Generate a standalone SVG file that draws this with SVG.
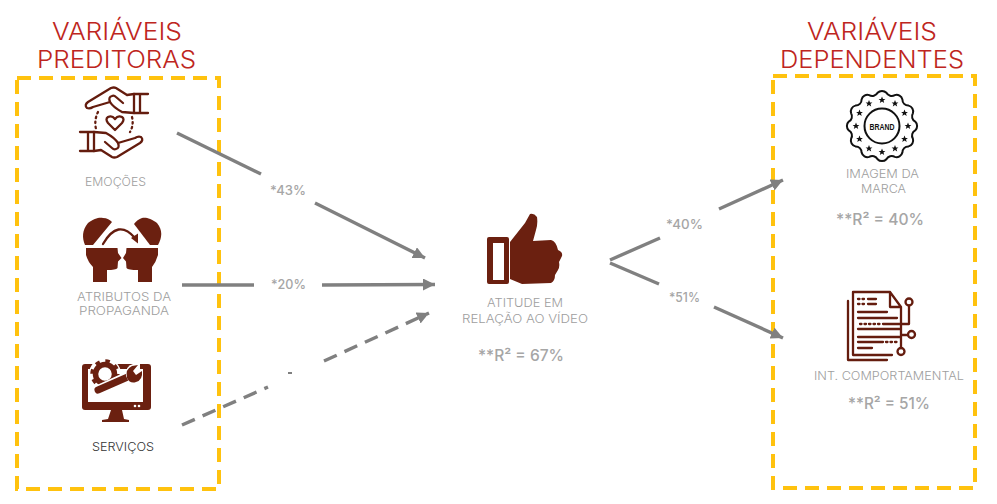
<svg xmlns="http://www.w3.org/2000/svg" width="997" height="504" viewBox="0 0 997 504">
<style>
text{font-family:"Inter","Open Sans","Liberation Sans",sans-serif}
.title{font-size:24px;font-weight:300;fill:#BE2520}
.lab{font-size:12px;font-weight:300;fill:#9E9E9E}
.r2{font-size:16px;font-weight:500;fill:#A6A6A6}
.pct{font-size:13px;font-weight:500;fill:#A6A6A6}
.box{fill:none;stroke:#FFC20E;stroke-width:4;stroke-dasharray:14 8}
.con{fill:none;stroke:#808080;stroke-width:3.4}
.dash{stroke-dasharray:14 8.5}
.ln{fill:none;stroke:#641C0E;stroke-width:2.3;stroke-linecap:round;stroke-linejoin:round}
.fl{fill:#6B2010}
</style>
<defs>
<marker id="ah" markerUnits="userSpaceOnUse" markerWidth="14" markerHeight="14" refX="12" refY="6" orient="auto"><path d="M0,0L12,6L0,12Z" fill="#808080"/></marker>
<path id="star" d="M0,-3.400L1,-1L3.400,-1L1.500,.5L2.200,2.900L0,1.500L-2.200,2.900L-1.500,.5L-3.400,-1L-1,-1Z" fill="#111"/>
<g id="hand" class="ln">
<path d="M134,94L127,95L116,88Q114,87 111,88L88,102Q84,105 87,108Q90,109 93,107L110,102Q113,107 122,112L134,113"/>
<path d="M110,102Q108,97 112,96Q114,95 116,97L123,103"/>
<path d="M134,94H148M134,113H148M134,94V113M140,94V113"/>
</g>
</defs>
<rect id="box-left" class="box" x="17" y="78" width="202" height="411"/>
<rect id="box-right" class="box" x="773" y="76" width="202" height="412"/>
<g id="connectors">
<path class="con" d="M177,133L261,174"/>
<path class="con" d="M315,203L425,258" marker-end="url(#ah)"/>
<path class="con" d="M182,285H254"/>
<path class="con" d="M322,285L435,284.500" marker-end="url(#ah)"/>
<path class="con dash" d="M182,425L268,387"/>
<path class="con dash" d="M324,361L429,313" marker-end="url(#ah)"/>
<path d="M288,373H292" stroke="#555" stroke-width="1.500"/>
<path class="con" d="M610,260L660,238"/>
<path class="con" d="M719,209L783,180" marker-end="url(#ah)"/>
<path class="con" d="M610,263L659,284"/>
<path class="con" d="M714,307L783,338" marker-end="url(#ah)"/>
</g>
<g id="edge-labels">
<text class="pct" x="270" y="195" textLength="36" lengthAdjust="spacingAndGlyphs">*43%</text>
<text class="pct" x="271" y="289" textLength="35" lengthAdjust="spacingAndGlyphs">*20%</text>
<text class="pct" x="666" y="229" textLength="37" lengthAdjust="spacingAndGlyphs">*40%</text>
<text class="pct" x="669" y="302" textLength="31" lengthAdjust="spacingAndGlyphs">*51%</text>
</g>
<g id="title-left">
<text class="title" x="52" y="40" textLength="130" lengthAdjust="spacingAndGlyphs">VARIÁVEIS</text>
<text class="title" x="37" y="68" textLength="159" lengthAdjust="spacingAndGlyphs">PREDITORAS</text>
</g>
<g id="title-right">
<text class="title" x="807" y="40" textLength="130" lengthAdjust="spacingAndGlyphs">VARIÁVEIS</text>
<text class="title" x="780" y="68" textLength="184" lengthAdjust="spacingAndGlyphs">DEPENDENTES</text>
</g>
<g id="node-emocoes">
<use href="#hand"/>
<use href="#hand" transform="rotate(180 114 122.500)"/>
<path class="ln" d="M115,130L108,123Q105,119 108,117Q112,115 115,119Q118,115 122,117Q125,119 122,123Z"/>
<path class="ln" stroke-dasharray="1.500 3.500" d="M98,112Q94,120 96,129M132,117Q134,125 130,132"/>
<text class="lab" x="85" y="186" textLength="61" lengthAdjust="spacingAndGlyphs">EMOÇÕES</text>
</g>
<g id="node-atributos">
<path class="fl" d="M86,248H117.500L118,253L121.500,258L118,261.500L117.500,268Q116,270 107,270V282H93V267Q88,262 86,255Z"/>
<path class="fl" d="M158,248H126.500L126,253L123,258L126,261.500L126.500,268Q128,270 138,270V282H152V267Q156,262 158,255Z"/>
<path class="fl" d="M85,245C82,238 82,230 88,223C94,218 100,217 103,218C107,218 110,220 112,222L93,245Z"/>
<path class="fl" d="M158,245C162,238 163,230 157,223C151,218 145,217 142,218C139,219 136,221 134,224L150,245Z"/>
<path class="ln" d="M103,244Q118,218 135,238"/>
<path class="fl" d="M131,238L138,233.500V243.500Z"/>
<text class="lab" x="77" y="301" textLength="94" lengthAdjust="spacingAndGlyphs">ATRIBUTOS DA</text>
<text class="lab" x="79" y="315" textLength="90" lengthAdjust="spacingAndGlyphs">PROPAGANDA</text>
</g>
<g id="node-servicos">
<rect class="fl" x="82" y="364" width="69" height="46" rx="3"/>
<rect x="88" y="369" width="55" height="33" fill="#fff"/>
<path class="fl" d="M111,410L108,419L102,420V422H129V420L124,419L122,410Z"/>
<circle cx="135" cy="406" r="1.300" fill="#fff"/><circle cx="139" cy="406" r="1.300" fill="#fff"/>
<circle cx="105" cy="374" r="16" fill="#fff"/>
<circle cx="105" cy="374" r="9.500" fill="none" stroke="#6B2010" stroke-width="5.500"/>
<circle cx="105" cy="374" r="13" fill="none" stroke="#6B2010" stroke-width="3.500" stroke-dasharray="4.500 5.700"/>
<path d="M97,391L130,376" stroke="#fff" stroke-width="11" stroke-linecap="round"/>
<path d="M98,390L130,376" stroke="#6B2010" stroke-width="7" stroke-linecap="round"/>
<path d="M126,376Q125,366 133,364H140V384H130Z" fill="#fff"/>
<path class="fl" d="M127,378Q125,369 132,366L138,365L133,371L136,375L142,371Q143,380 136,382Q130,384 127,378Z"/>
<text x="92" y="451" font-size="12" font-weight="300" fill="#333" textLength="62" lengthAdjust="spacingAndGlyphs">SERVIÇOS</text>
</g>
<g id="node-atitude">
<path class="fl" fill-rule="evenodd" d="M489,237H507Q509,237 509,239V282Q509,284 507,284H489Q487,284 487,282V239Q487,237 489,237ZM493,243V280H504V243Z"/>
<path class="fl" d="M510,242L525,223L530,214Q534,213 537,217Q538,224 536,230L533,241L551,240Q556,241 558,250Q563,252 562,256L559,262Q560,267 558,270L555,275Q555,281 551,283L522,284L510,279Z"/>
<text class="lab" x="487" y="307" textLength="76" lengthAdjust="spacingAndGlyphs">ATITUDE EM</text>
<text class="lab" x="462" y="323" textLength="126" lengthAdjust="spacingAndGlyphs">RELAÇÃO AO VÍDEO</text>
<text class="r2" x="478" y="361" textLength="86" lengthAdjust="spacingAndGlyphs">**R² = 67%</text>
</g>
<g id="node-imagem">
<g transform="translate(882,126)">
<path fill="none" stroke="#111" stroke-width="2" d="M33.200,-4.400A6,6 0 0 1 33.200,4.400A6,6 0 0 0 30.900,12.800A6,6 0 0 1 26.600,20.400A6,6 0 0 0 20.400,26.600A6,6 0 0 1 12.800,30.900A6,6 0 0 0 4.400,33.200A6,6 0 0 1 -4.400,33.200A6,6 0 0 0 -12.800,30.900A6,6 0 0 1 -20.400,26.600A6,6 0 0 0 -26.600,20.400A6,6 0 0 1 -30.900,12.800A6,6 0 0 0 -33.200,4.400A6,6 0 0 1 -33.200,-4.400A6,6 0 0 0 -30.900,-12.800A6,6 0 0 1 -26.600,-20.400A6,6 0 0 0 -20.400,-26.600A6,6 0 0 1 -12.800,-30.900A6,6 0 0 0 -4.400,-33.200A6,6 0 0 1 4.400,-33.200A6,6 0 0 0 12.800,-30.900A6,6 0 0 1 20.400,-26.600A6,6 0 0 0 26.600,-20.400A6,6 0 0 1 30.900,-12.800A6,6 0 0 0 33.200,-4.400Z"/>
<circle r="17.500" fill="none" stroke="#111" stroke-width="2"/>
<use href="#star" x="26" y="0"/><use href="#star" x="22.500" y="13"/><use href="#star" x="13" y="22.500"/><use href="#star" x="0" y="26"/><use href="#star" x="-13" y="22.500"/><use href="#star" x="-22.500" y="13"/><use href="#star" x="-26" y="0"/><use href="#star" x="-22.500" y="-13"/><use href="#star" x="-13" y="-22.500"/><use href="#star" x="0" y="-26"/><use href="#star" x="13" y="-22.500"/><use href="#star" x="22.500" y="-13"/>
<text x="-12.500" y="3.500" style="font-family:'Liberation Sans',sans-serif" font-size="9" font-weight="700" fill="#111" textLength="25" lengthAdjust="spacingAndGlyphs">BRAND</text>
</g>
<text class="lab" x="846" y="178" textLength="73" lengthAdjust="spacingAndGlyphs">IMAGEM DA</text>
<text class="lab" x="861" y="193" textLength="45" lengthAdjust="spacingAndGlyphs">MARCA</text>
<text class="r2" x="836" y="225" textLength="88" lengthAdjust="spacingAndGlyphs">**R² = 40%</text>
</g>
<g id="node-int">
<path class="ln" d="M901,325V307L890,292H853V355H892M890,292V307H901M848,301V360H887"/>
<path class="ln" d="M858,312H887M858,318H897M883,324H909V306M858,329H900M858,337H900M858,342H883M858,348H872M901,325V348M901,335H908M868,299H876M868,304H876"/>
<path class="ln" stroke-dasharray="1.500 3" d="M860,324H881M886,342H897M858,299H865M858,304H865"/>
<circle class="ln" cx="909" cy="302" r="3.500"/><circle class="ln" cx="911.500" cy="334.500" r="3.500"/><circle class="ln" cx="901" cy="351.500" r="3.500"/>
<text class="lab" x="814" y="380" textLength="150" lengthAdjust="spacingAndGlyphs">INT. COMPORTAMENTAL</text>
<text class="r2" x="848" y="409" textLength="82" lengthAdjust="spacingAndGlyphs">**R² = 51%</text>
</g>
</svg>
